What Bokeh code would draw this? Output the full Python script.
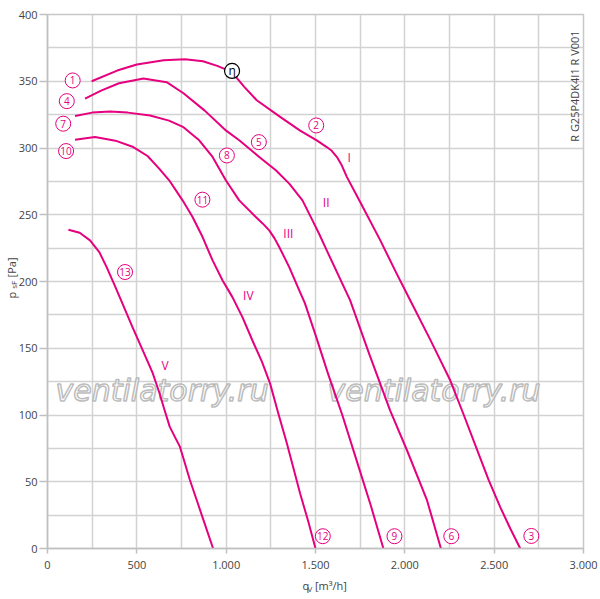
import math
from bokeh.plotting import figure
from bokeh.models import Range1d, FixedTicker, ColumnDataSource, Label
from bokeh.core.properties import value
from bokeh.embed import file_html
from bokeh.resources import INLINE

MAG = "#e6007e"

# ---- data ----
I_q = [247, 390, 500, 650, 770, 870, 950, 1031, 1100, 1171, 1300, 1414, 1507, 1563, 1591, 1620, 1647, 1676, 1750, 1862, 1950, 2030, 2140, 2254, 2330, 2404, 2470, 2534, 2590, 2646]
I_p = [350, 358, 362.5, 365.8, 366.5, 365, 361.5, 357, 346, 335.8, 323.5, 313, 305.7, 300.7, 297.9, 293.2, 287, 278.2, 259.5, 231, 207, 186, 157, 126, 100, 74, 51, 31, 15, 0]

II_q = [210, 300, 400, 537, 667, 761, 880, 1000, 1073, 1185, 1278, 1353, 1427, 1483, 1520, 1563, 1694, 1800, 1918, 2012, 2124, 2202]
II_p = [337, 343, 348.5, 352, 349.3, 341, 328, 313, 305.8, 293.3, 283.3, 273.3, 260.8, 245.8, 235.8, 223.3, 185.9, 146, 103.3, 73.6, 36.2, 0]

III_q = [154, 250, 350, 450, 574, 680, 761, 849, 924, 998, 1073, 1166, 1204, 1241, 1270, 1297, 1353, 1409, 1440, 1500, 1570, 1650, 1730, 1810, 1880]
III_p = [323.9, 326.5, 327.4, 326.5, 324.4, 320.5, 315.6, 305.8, 293.3, 275.8, 260.8, 248.3, 243.5, 238.3, 232.5, 225.8, 210.8, 193.3, 184, 160, 131, 100, 66, 32, 0]

IV_q = [154, 266, 380, 480, 560, 625, 681, 756, 812, 868, 924, 980, 1035, 1091, 1147, 1200, 1246, 1290, 1340, 1414, 1460, 1500]
IV_p = [306.2, 308.2, 305.5, 300.7, 294, 284.5, 275.8, 260.8, 248.3, 233.3, 215.8, 200.8, 188.3, 173.3, 155.8, 140, 123.5, 102, 78.6, 41.2, 20, 0]

V_q = [117, 180, 238, 290, 331, 373, 415, 475, 532, 589, 627, 655, 684, 712, 741, 769, 797, 835, 873, 927]
V_p = [238.8, 236.5, 230.8, 222, 210.8, 198, 185, 166, 148.8, 131.3, 116.3, 103.8, 91.3, 83.8, 76.3, 63.8, 51.3, 36.3, 21.3, 0]

num_text = ["1", "4", "7", "10", "13", "11", "8", "5", "2", "12", "9", "6", "3"]
num_q = [141, 108, 88, 104, 434, 867, 1004, 1183, 1504, 1541, 1942, 2260, 2708]
num_p = [350.6, 335.1, 318.2, 297.7, 207.1, 261.3, 294.4, 304.4, 316.9, 9.2, 9.2, 9.2, 9.4]

roman_text = ["I", "II", "III", "IV", "V"]
roman_q = [1688, 1560, 1348, 1124, 658]
roman_p = [293.2, 259.5, 235.8, 189.6, 137.2]

eta_q = [1033]
eta_p = [357.7]

x_ticks = [0, 500, 1000, 1500, 2000, 2500, 3000]
x_tick_labels = ["0", "500", "1.000", "1.500", "2.000", "2.500", "3.000"]
x_minor = [250, 750, 1250, 1750, 2250, 2750]
y_ticks = [0, 50, 100, 150, 200, 250, 300, 350, 400]
y_minor = [25, 75, 125, 175, 225, 275, 325, 375]

# ---- figure ----
p = figure(width=600, height=599, output_backend="svg", toolbar_location=None,
           x_range=Range1d(0, 3000), y_range=Range1d(0, 400),
           min_border_left=47, min_border_right=17, min_border_top=14, min_border_bottom=51)
p.background_fill_color = "white"
p.border_fill_color = "white"
p.outline_line_color = "#c8c8c8"
p.outline_line_width = 1.5

GRID = "#d2d2d2"
p.xaxis.ticker = FixedTicker(ticks=x_ticks, minor_ticks=x_minor)
p.yaxis.ticker = FixedTicker(ticks=y_ticks, minor_ticks=y_minor)
p.xaxis.major_label_overrides = {t: l for t, l in zip(x_ticks, x_tick_labels)}
for g in (p.xgrid, p.ygrid):
    g.grid_line_color = GRID
    g.grid_line_width = 1.5
    g.minor_grid_line_color = GRID
    g.minor_grid_line_width = 1.5

for ax in (p.xaxis, p.yaxis):
    ax.axis_line_color = "#c0c0c0"
    ax.axis_line_width = 1.5
    ax.major_tick_line_color = "#c0c0c0"
    ax.major_tick_line_width = 1.5
    ax.major_tick_in = 0
    ax.minor_tick_line_color = None
    ax.major_label_text_font = "Open Sans"
    ax.major_label_text_font_size = "11px"
    ax.major_label_text_color = "#444444"
p.xaxis.major_tick_out = 5
p.xaxis.major_label_standoff = 7
p.yaxis.major_tick_out = 8
p.yaxis.major_label_standoff = 2

# watermark
wm = ColumnDataSource(dict(x=[45, 1567], y=[118.4, 118.4], t=["ventilatorry.ru", "ventilatorry.ru"]))
p.text(x="x", y="y", text="t", source=wm, text_font=value("DejaVu Sans"), text_font_size="30px",
       text_font_style="italic", text_color="white", text_alpha=0.85, text_outline_color="#b0b0b0",
       text_align="left", text_baseline="alphabetic")

# curves
for q, pp in ((I_q, I_p), (II_q, II_p), (III_q, III_p), (IV_q, IV_p), (V_q, V_p)):
    p.line(q, pp, line_color=MAG, line_width=2, line_join="round")

# circled numbers
ns = ColumnDataSource(dict(x=num_q, y=num_p, t=num_text))
p.scatter(x="x", y="y", source=ns, marker="circle", size=15, fill_color="white",
          line_color=MAG, line_width=1)
p.text(x="x", y="y", text="t", source=ns, text_font=value("Open Sans"), text_font_size="10px",
       text_color=MAG, text_align="center", text_baseline="middle")

# eta marker
p.scatter(eta_q, eta_p, marker="circle", size=15, fill_color="white", line_color="black", line_width=1.2)
p.text(eta_q, eta_p, text=["η"], text_font=value("Open Sans"), text_font_size="12px",
       text_color="black", text_align="center", text_baseline="middle")

# roman numerals
p.text(roman_q, roman_p, text=roman_text, text_font=value("Open Sans"), text_font_size="12px",
       text_color=MAG, text_align="center", text_baseline="middle")

# vertical code text
p.text([2950], [346.4], text=["R G25P4DK4I1 R V001"], angle=math.pi / 2,
       text_font=value("Open Sans"), text_font_size="11px", text_color="#444444",
       text_align="center", text_baseline="middle")

# axis labels: placed in the side panels (not clipped by the frame); spread over
# panels so that no panel grows beyond its border
NB = "\u00a0"
lab = dict(text_font="Open Sans", text_color="#444444", text_baseline="middle")
p.add_layout(Label(x=-204, y=187.3, text="p" + NB * 5 + "[Pa]", angle=math.pi / 2,
                   text_font_size="11px", text_align="left", **lab), "left")
p.add_layout(Label(x=-191, y=197.5, text="sF", angle=math.pi / 2,
                   text_font_size="8px", text_align="center", **lab), "above")
p.add_layout(Label(x=1427, y=-27.7, text="q" + NB * 2 + "[m³/h]",
                   text_font_size="11px", text_align="left", **lab), "below")
p.add_layout(Label(x=1469, y=-30, text="V",
                   text_font_size="8px", text_align="center", **lab), "right")

open("out.html", "w").write(file_html(p, INLINE))
